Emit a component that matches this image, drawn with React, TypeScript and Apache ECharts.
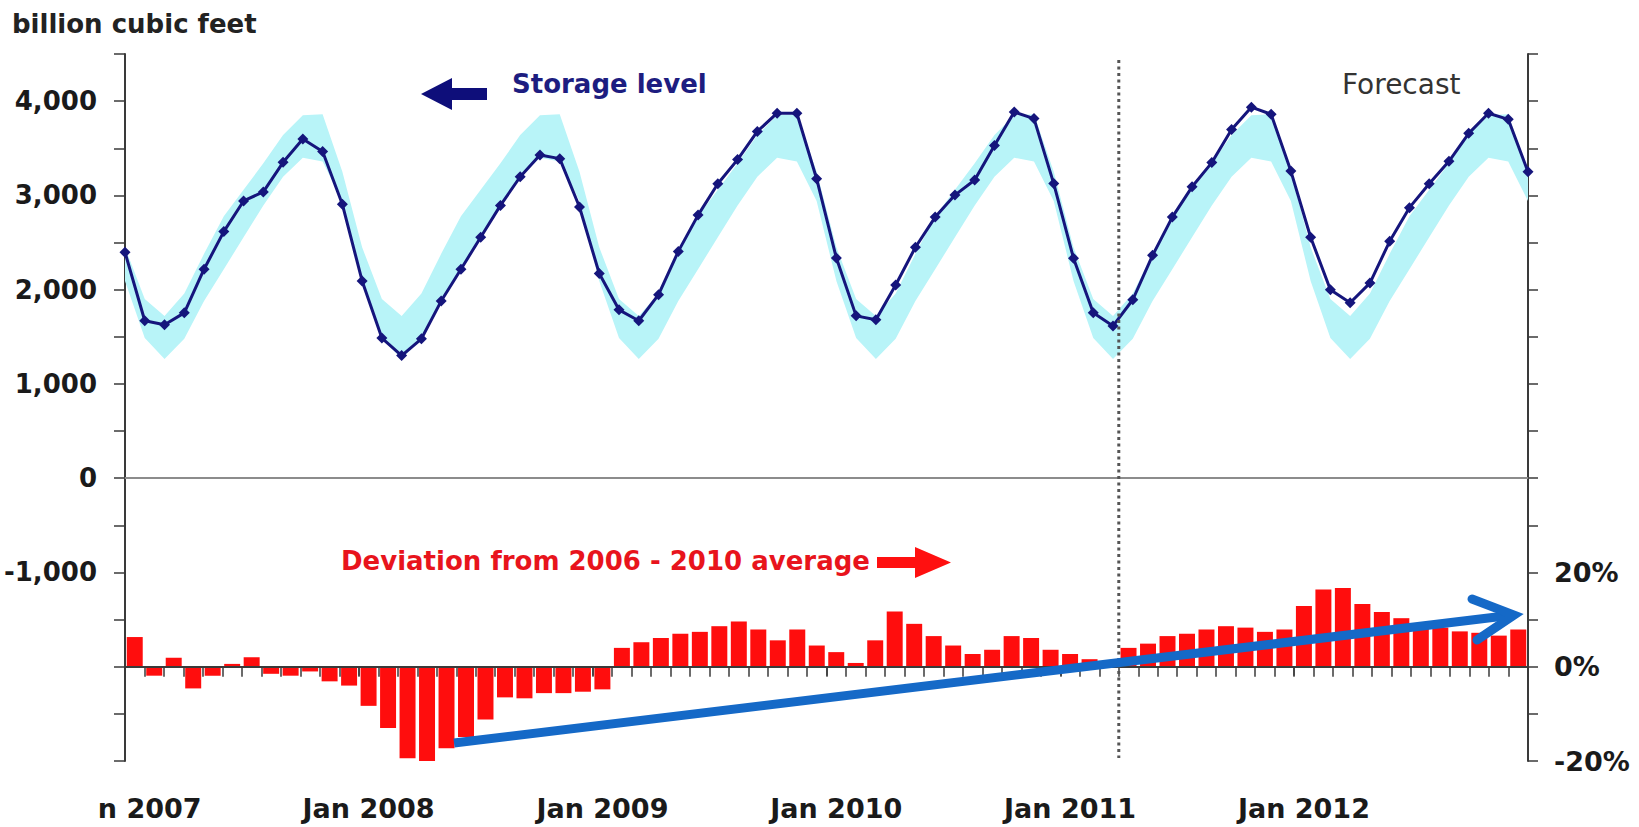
import React, { useEffect, useRef } from 'react';
import * as echarts from 'echarts';

const years = [2007, 2008, 2009, 2010, 2011, 2012];
const monthNames = ['Jan', 'Feb', 'Mar', 'Apr', 'May', 'Jun', 'Jul', 'Aug', 'Sep', 'Oct', 'Nov', 'Dec'];
const categories = years.flatMap((y) => monthNames.map((m) => `${m} ${y}`));

// bottom tick labels (one per January); the first is clipped in the original
const xTickLabels = ['n 2007', 'Jan 2008', 'Jan 2009', 'Jan 2010', 'Jan 2011', 'Jan 2012'];
const leftLabelValues = [4000, 3000, 2000, 1000, 0, -1000];
const rightLabelValues = [-20, 0, 20];

// end-of-month working gas storage, billion cubic feet
const storageLevel = [
  2396, 1670, 1627, 1754, 2217, 2616, 2941, 3037, 3351, 3598, 3465, 2906,
  2093, 1487, 1301, 1479, 1879, 2217, 2556, 2894, 3198, 3429, 3390, 2877,
  2171, 1786, 1670, 1947, 2406, 2791, 3123, 3380, 3679, 3872, 3872, 3177,
  2335, 1722, 1680, 2050, 2450, 2770, 3003, 3164, 3530, 3885, 3815, 3125,
  2334, 1754, 1615, 1893, 2364, 2770, 3091, 3348, 3700, 3936, 3861, 3258,
  2556, 2000, 1861, 2070, 2513, 2870, 3123, 3362, 3658, 3872, 3807, 3251,
];

// historical range band (low / high), billion cubic feet
const bandLow = [
  2093, 1487, 1265, 1479, 1879, 2217, 2556, 2894, 3198, 3400, 3360, 2940,
  2093, 1487, 1265, 1479, 1879, 2217, 2556, 2894, 3198, 3400, 3360, 2940,
  2093, 1487, 1265, 1479, 1879, 2217, 2556, 2894, 3198, 3400, 3360, 2940,
  2093, 1487, 1265, 1479, 1879, 2217, 2556, 2894, 3198, 3400, 3360, 2940,
  2093, 1487, 1265, 1479, 1879, 2217, 2556, 2894, 3198, 3400, 3360, 2940,
  2093, 1487, 1265, 1479, 1879, 2217, 2556, 2894, 3198, 3400, 3360, 2940,
];
const bandHigh = [
  2450, 1900, 1720, 1960, 2380, 2780, 3060, 3340, 3640, 3850, 3860, 3250,
  2450, 1900, 1720, 1960, 2380, 2780, 3060, 3340, 3640, 3850, 3860, 3250,
  2450, 1900, 1720, 1960, 2380, 2780, 3060, 3340, 3640, 3850, 3860, 3250,
  2450, 1900, 1720, 1960, 2380, 2780, 3060, 3340, 3640, 3850, 3860, 3250,
  2450, 1900, 1720, 1960, 2380, 2780, 3060, 3340, 3640, 3850, 3860, 3250,
  2450, 1900, 1720, 1960, 2380, 2780, 3060, 3340, 3640, 3850, 3860, 3250,
];

// deviation from 2006 - 2010 average, percent
const deviationPct = [
  6.3, -1.9, 1.9, -4.6, -1.9, 0.6, 2.0, -1.5, -1.9, -1.0, -3.1, -4.0,
  -8.3, -13.0, -19.4, -20.3, -17.3, -14.9, -11.2, -6.5, -6.7, -5.6, -5.6, -5.3,
  -4.8, 4.0, 5.2, 6.1, 7.0, 7.4, 8.6, 9.6, 7.9, 5.6, 7.9, 4.5,
  3.1, 0.8, 5.6, 11.7, 9.1, 6.5, 4.5, 2.7, 3.6, 6.5, 6.1, 3.6,
  2.7, 1.6, 0.6, 4.0, 4.9, 6.5, 7.0, 7.9, 8.6, 8.3, 7.4, 7.9,
  12.9, 16.4, 16.7, 13.3, 11.6, 10.3, 8.9, 8.3, 7.5, 7.2, 6.6, 7.9,
];

const FONT = 'DejaVu Sans';
const NAVY = '#15157c';
const RED = '#ff0d0d';
const BLUE = '#1569c7';
const AXIS = '#3a3a3a';

export default function App() {
  const ref = useRef<HTMLDivElement>(null);

  useEffect(() => {
    if (!ref.current) return;
    const chart = echarts.init(ref.current, null, { renderer: 'svg' });

    const labelBase = { fontFamily: FONT, fontWeight: 'bold', color: '#1a1a1a' };

    const option: any = {
      animation: false,
      backgroundColor: '#ffffff',
      textStyle: { fontFamily: FONT },
      grid: { left: 125, right: 111, top: 54, bottom: 66, containLabel: false, outerBoundsMode: 'none' },
      xAxis: [
        {
          // bar axis: sits on 0 % of the right axis, one small tick per month
          type: 'category',
          data: categories,
          boundaryGap: true,
          z: 3,
          axisLine: { onZero: true, onZeroAxisIndex: 1, lineStyle: { color: AXIS, width: 2 } },
          axisTick: { show: true, interval: 0, length: 10, lineStyle: { color: AXIS, width: 1.5 } },
          axisLabel: { show: false },
          splitLine: { show: false },
        },
        {
          // taller January ticks (upper half)
          type: 'category',
          data: categories,
          boundaryGap: true,
          z: 3,
          axisLine: { show: false, onZero: true, onZeroAxisIndex: 1 },
          axisTick: {
            show: true,
            inside: true,
            interval: (i: number) => i % 12 === 0,
            length: 9,
            lineStyle: { color: AXIS, width: 1.5 },
          },
          axisLabel: { show: false },
          splitLine: { show: false },
        },
        {
          // line axis: points from edge to edge, grey line at 0 of the left axis
          type: 'category',
          data: categories,
          boundaryGap: false,
          axisLine: { onZero: true, onZeroAxisIndex: 0, lineStyle: { color: '#8c8c8c', width: 2 } },
          axisTick: { show: false },
          axisLabel: { show: false },
          splitLine: { show: false },
        },
        {
          // date labels along the bottom
          type: 'category',
          data: categories,
          boundaryGap: true,
          position: 'bottom',
          axisLine: { show: false, onZero: false },
          axisTick: { show: false },
          axisLabel: {
            ...labelBase,
            fontSize: 27,
            margin: 34,
            interval: (i: number) => i % 12 === 0,
            formatter: (_v: string, i: number) => {
              const t = xTickLabels[Math.floor(i / 12)];
              return i === 0 ? `{first|${t}}` : t;
            },
            rich: {
              first: { ...labelBase, fontSize: 27, padding: [0, 0, 0, 30] },
            },
          },
          splitLine: { show: false },
        },
      ],
      yAxis: [
        {
          type: 'value',
          position: 'left',
          min: -3000,
          max: 4500,
          interval: 500,
          axisLine: { show: true, lineStyle: { color: AXIS, width: 2 } },
          axisTick: { show: true, length: 11, lineStyle: { color: AXIS, width: 1.5 } },
          axisLabel: {
            ...labelBase,
            fontSize: 26,
            margin: 28,
            formatter: (v: number) => (leftLabelValues.includes(v) ? v.toLocaleString('en-US') : ''),
          },
          splitLine: { show: false },
        },
        {
          type: 'value',
          position: 'right',
          min: -20,
          max: 130,
          interval: 10,
          axisLine: { show: true, lineStyle: { color: AXIS, width: 2 } },
          axisTick: { show: true, length: 10, lineStyle: { color: AXIS, width: 1.5 } },
          axisLabel: {
            ...labelBase,
            fontSize: 27,
            margin: 26,
            formatter: (v: number) => (rightLabelValues.includes(v) ? `${v}%` : ''),
          },
          splitLine: { show: false },
        },
      ],
      series: [
        {
          name: 'band low',
          type: 'line',
          xAxisIndex: 2,
          yAxisIndex: 0,
          data: bandLow,
          stack: 'band',
          symbol: 'none',
          silent: true,
          lineStyle: { opacity: 0 },
          z: 1,
        },
        {
          name: 'band range',
          type: 'line',
          xAxisIndex: 2,
          yAxisIndex: 0,
          data: bandHigh.map((h, i) => h - bandLow[i]),
          stack: 'band',
          symbol: 'none',
          silent: true,
          lineStyle: { opacity: 0 },
          areaStyle: { color: '#b8f4f8', opacity: 1 },
          z: 1,
        },
        {
          name: 'Deviation from 2006 - 2010 average',
          type: 'bar',
          xAxisIndex: 0,
          yAxisIndex: 1,
          data: deviationPct,
          barCategoryGap: '18%',
          itemStyle: { color: RED },
          z: 2,
        },
        {
          name: 'Storage level',
          type: 'line',
          xAxisIndex: 2,
          yAxisIndex: 0,
          data: storageLevel,
          symbol: 'diamond',
          symbolSize: 11,
          showAllSymbol: true,
          itemStyle: { color: NAVY },
          lineStyle: { color: NAVY, width: 3 },
          z: 4,
        },
      ],
    };

    chart.setOption(option);

    // forecast divider sits on the boundary between Mar 2011 and Apr 2011
    const xa = chart.convertToPixel({ xAxisIndex: 0 }, categories[50]) as number;
    const xb = chart.convertToPixel({ xAxisIndex: 0 }, categories[51]) as number;
    const xDiv = (xa + xb) / 2;

    chart.setOption({
      graphic: [
        {
          id: 'divider',
          type: 'line',
          z: 5,
          shape: { x1: xDiv, y1: 60, x2: xDiv, y2: 758 },
          style: { stroke: '#555555', lineWidth: 3, lineDash: [3, 3.5] },
        },
        {
          id: 'unit',
          type: 'text',
          z: 100,
          x: 12,
          y: 24,
          style: {
            text: 'billion cubic feet',
            fontFamily: FONT,
            fontWeight: 'bold',
            fontSize: 26,
            fill: '#222222',
            verticalAlign: 'middle',
          },
        },
        {
          id: 'storageArrow',
          type: 'polygon',
          z: 100,
          shape: {
            points: [[421, 94], [452, 78], [452, 88], [487, 88], [487, 100], [452, 100], [452, 110]],
          },
          style: { fill: '#0e0e7a' },
        },
        {
          id: 'storageText',
          type: 'text',
          z: 100,
          x: 512,
          y: 84,
          style: {
            text: 'Storage level',
            fontFamily: FONT,
            fontWeight: 'bold',
            fontSize: 26,
            fill: '#1d1d80',
            verticalAlign: 'middle',
          },
        },
        {
          id: 'forecast',
          type: 'text',
          z: 100,
          x: 1342,
          y: 84,
          style: {
            text: 'Forecast',
            fontFamily: FONT,
            fontWeight: 'normal',
            fontSize: 28,
            fill: '#333333',
            verticalAlign: 'middle',
          },
        },
        {
          id: 'devText',
          type: 'text',
          z: 100,
          x: 341,
          y: 561,
          style: {
            text: 'Deviation from 2006 - 2010 average',
            fontFamily: FONT,
            fontWeight: 'bold',
            fontSize: 26,
            fill: '#e8141c',
            verticalAlign: 'middle',
          },
        },
        {
          id: 'devArrow',
          type: 'polygon',
          z: 100,
          shape: {
            points: [[877, 557], [915, 557], [915, 547], [951, 562.5], [915, 578], [915, 568], [877, 568]],
          },
          style: { fill: '#ff1010' },
        },
        {
          id: 'trendShaft',
          type: 'line',
          z: 100,
          shape: { x1: 454, y1: 743, x2: 1509, y2: 615.5 },
          style: { stroke: BLUE, lineWidth: 9, lineCap: 'butt' },
        },
        {
          id: 'trendHead',
          type: 'polyline',
          z: 100,
          shape: { points: [[1472, 599], [1514, 615], [1477, 640]] },
          style: { stroke: BLUE, lineWidth: 9, lineCap: 'round', lineJoin: 'miter', fill: null },
        },
      ],
    });

    return () => chart.dispose();
  }, []);

  return (
    <div
      ref={ref}
      style={{ position: 'fixed', left: 0, top: 0, width: 1639, height: 827, background: '#fff' }}
    />
  );
}
